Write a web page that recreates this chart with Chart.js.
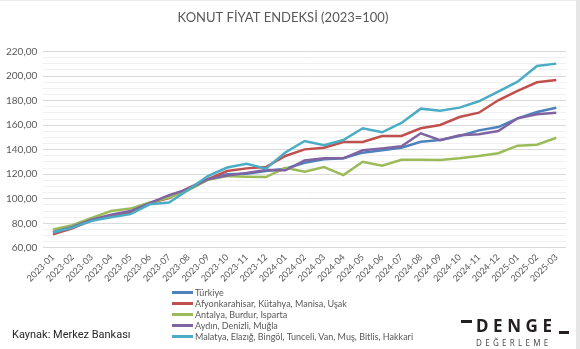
<!DOCTYPE html>
<html>
<head>
<meta charset="utf-8">
<script src="https://cdn.jsdelivr.net/npm/chart.js@4/dist/chart.umd.min.js"></script>
<style>
  html, body { margin: 0; padding: 0; background: #fff; }
  #wrap { position: relative; width: 580px; height: 349px; overflow: hidden; background: #fff; font-family: Lato, "Open Sans", sans-serif; }
  #c { position: absolute; left: 0; top: 0; }
  #frameR { position: absolute; right: 0; top: 0; width: 4px; height: 349px; background: #e6e6e6; }
  #frameT { position: absolute; left: 0; top: 0; width: 580px; height: 1px; background: #ececec; }
  #legend { position: absolute; left: 172px; top: 287px; font-size: 9px; color: #595959; line-height: 11px; }
  .li { display: flex; align-items: center; height: 11px; white-space: nowrap; }
  .sw { width: 21px; height: 3px; margin-right: 2px; }
  #source { position: absolute; left: 12px; top: 328px; font-family: Roboto, sans-serif; font-size: 11px; color: #262626; }
  #logo { position: absolute; left: 461px; top: 316px; width: 110px; height: 32px; font-family: "Noto Sans", sans-serif; color: #231f20; }
  #logo .main { position: absolute; left: 15px; top: -2px; font-size: 17px; font-weight: 700; letter-spacing: 4.6px; }
  #logo .d1 { position: absolute; left: 0; top: 4px; width: 11px; height: 2.5px; background: #231f20; }
  #logo .d2 { position: absolute; left: 98px; top: 15px; width: 10px; height: 2.5px; background: #231f20; }
  #logo .sub { position: absolute; left: 15px; top: 21px; font-size: 8px; letter-spacing: 3.3px; color: #4d4d4d; }
</style>
</head>
<body>
<div id="wrap">
  <canvas id="c" width="580" height="349"></canvas>
  <div id="frameT"></div>
  <div id="frameR"></div>
  <div id="legend"></div>
  <div id="source">Kaynak: Merkez Bankası</div>
  <div id="logo"><div class="d1"></div><div class="main">DENGE</div><div class="d2"></div><div class="sub">DEĞERLEME</div></div>
</div>
<script>
const categories = ["2023-01","2023-02","2023-03","2023-04","2023-05","2023-06","2023-07","2023-08","2023-09","2023-10","2023-11","2023-12",
  "2024-01","2024-02","2024-03","2024-04","2024-05","2024-06","2024-07","2024-08","2024-09","2024-10","2024-11","2024-12",
  "2025-01","2025-02","2025-03"];

const seriesNames = ["Türkiye", "Afyonkarahisar, Kütahya, Manisa, Uşak", "Antalya, Burdur, Isparta", "Aydın, Denizli, Muğla",
  "Malatya, Elazığ, Bingöl, Tunceli, Van, Muş, Bitlis, Hakkari"];

const turkiye = [73, 77, 82.5, 86, 89, 96.5, 102, 108, 116, 120, 120.5, 122.6,
  124.5, 129.4, 132.2, 133, 137.6, 139.5, 141.6, 146.5, 147.9, 151.2, 155.8, 158.5,
  165.6, 170.8, 174.3];
const afyon = [71, 76, 82.5, 86, 89, 96.5, 100.5, 109, 116, 122.6, 124.8, 125.9,
  134.9, 140.3, 141.6, 146.3, 146.3, 151.2, 151.2, 157.5, 160.2, 166.7, 170.2, 180.3,
  187.9, 195, 196.9];
const antalya = [75, 78.5, 84.5, 90, 92, 97, 101, 107, 115.5, 118.5, 118, 117.7,
  125.3, 122, 125.9, 119.3, 130.2, 126.9, 131.8, 131.8, 131.6, 133, 134.9, 137.1,
  143.3, 144.1, 149.8];
const aydin = [72.5, 77, 83, 87, 90, 96.5, 103, 108, 116, 119, 121, 123.5,
  123.2, 131.3, 133, 133, 139.5, 141.1, 142.8, 153.4, 147.7, 151.8, 152.6, 155.3,
  165.6, 168.9, 170.2];
const malatya = [72.5, 76.5, 82, 85, 87.5, 95.5, 97, 107.5, 118.5, 125.5, 128.5, 124.5,
  137.8, 147.1, 143.6, 147.9, 157.5, 154.2, 161.8, 173.5, 171.8, 174.3, 179.5, 187.3,
  195.5, 208.3, 210.2];

const yMin = 60, yMax = 220, yMajor = 20, yMinor = 5;
const colors = ["#4f81bd", "#c0504d", "#9bbb59", "#8064a2", "#4bacc6"];
const allSeries = [turkiye, afyon, antalya, aydin, malatya];

const datasets = allSeries.map((d, i) => ({
  label: seriesNames[i],
  data: d,
  borderColor: colors[i],
  backgroundColor: colors[i],
  borderWidth: 2.5,
  pointRadius: 0,
  tension: 0,
  fill: false,
  order: allSeries.length - i
}));

new Chart(document.getElementById('c'), {
  type: 'line',
  data: { labels: categories, datasets: datasets },
  options: {
    responsive: false,
    animation: false,
    layout: { padding: { left: 0, right: 14, top: 4, bottom: 61 } },
    plugins: {
      legend: { display: false },
      tooltip: { enabled: false },
      title: {
        display: true,
        text: "KONUT FİYAT ENDEKSİ (2023=100)",
        color: "#595959",
        font: { family: "Lato, 'Open Sans', sans-serif", size: 13, weight: 'normal' },
        padding: { top: 6, bottom: 26 }
      }
    },
    scales: {
      x: {
        offset: true,
        grid: { display: false, drawTicks: false },
        border: { display: false },
        ticks: {
          color: "#595959",
          font: { family: "Lato, 'Open Sans', sans-serif", size: 9 },
          maxRotation: 45, minRotation: 45, autoSkip: false, padding: 4
        }
      },
      y: {
        min: yMin, max: yMax,
        border: { display: false },
        grid: {
          drawTicks: false,
          color: ctx => (ctx.tick && ctx.tick.value % yMajor === 0) ? "#d9d9d9" : "#f0f0f0",
          lineWidth: 1
        },
        ticks: {
          stepSize: yMinor,
          autoSkip: false,
          padding: 6,
          color: "#595959",
          font: { family: "Lato, 'Open Sans', sans-serif", size: 10 },
          callback: v => (v % yMajor === 0) ? v.toFixed(2).replace('.', ',') : ''
        }
      }
    }
  }
});

const lg = document.getElementById('legend');
seriesNames.forEach((n, i) => {
  const row = document.createElement('div');
  row.className = 'li';
  const sw = document.createElement('span');
  sw.className = 'sw';
  sw.style.background = colors[i];
  const t = document.createElement('span');
  t.textContent = n;
  row.appendChild(sw); row.appendChild(t);
  lg.appendChild(row);
});
</script>
</body>
</html>
